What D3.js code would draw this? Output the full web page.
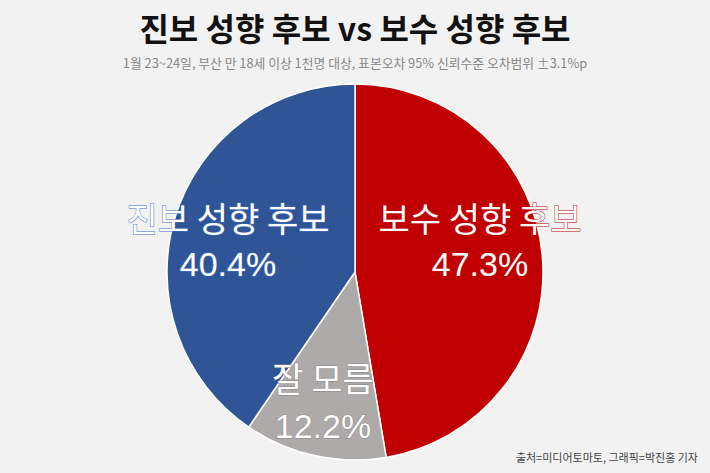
<!DOCTYPE html>
<html><head><meta charset="utf-8">
<script src="https://cdn.jsdelivr.net/npm/d3@7"></script>
<style>body{margin:0;background:#f2f2f2}</style>
</head><body>
<svg id="c" width="710" height="473"></svg>
<script>
const labels = ["보수 성향 후보", "잘 모름", "진보 성향 후보"];
const values = [47.3, 12.2, 40.4];
const colors = ["#c00000", "#aeaaaa", "#2f5597"];
const strokes = ["#c00000", "#8c8888", "#4472c4"];
const labelPos = [[480, 232, 276], [323, 392, 438], [228, 232, 276]];

const svg = d3.select("#c");
svg.append("rect").attr("width", 710).attr("height", 473).attr("fill", "#f2f2f2");
const font = "'Noto Sans CJK KR', sans-serif";
const numFont = "'Liberation Sans', Arial, sans-serif";

svg.append("text").attr("x", 355).attr("y", 41).attr("text-anchor", "middle")
  .attr("font-family", font).attr("font-weight", "bold").attr("font-size", 32)
  .attr("fill", "#111").text("진보 성향 후보 vs 보수 성향 후보");
svg.append("text").attr("x", 355).attr("y", 68).attr("text-anchor", "middle")
  .attr("font-family", font).attr("font-size", 12.8).attr("fill", "#888")
  .text("1월 23~24일, 부산 만 18세 이상 1천명 대상, 표본오차 95% 신뢰수준 오차범위 ±3.1%p");

const pie = d3.pie().sort(null).value(d => d)(values);
const arc = d3.arc().innerRadius(0).outerRadius(188);
const g = svg.append("g").attr("transform", "translate(355,272)");
g.selectAll("path").data(pie).join("path")
  .attr("d", arc).attr("fill", (d, i) => colors[i])
  .attr("stroke", "#fff").attr("stroke-width", 1.5);

labels.forEach((t, i) => {
  const [x, y1, y2] = labelPos[i];
  [[t, y1, font], [values[i].toFixed(1) + "%", y2, numFont]].forEach(([s, y, f]) => {
    svg.append("text").attr("x", x).attr("y", y).attr("text-anchor", "middle")
      .attr("font-family", f).attr("font-size", 34).attr("fill", "#fff")
      .attr("stroke", strokes[i]).attr("stroke-width", 1).attr("paint-order", "stroke")
      .text(s);
  });
});

svg.append("text").attr("x", 698).attr("y", 462).attr("text-anchor", "end")
  .attr("font-family", font).attr("font-size", 11).attr("fill", "#444")
  .text("출처=미디어토마토, 그래픽=박진홍 기자");
</script>
</body></html>
